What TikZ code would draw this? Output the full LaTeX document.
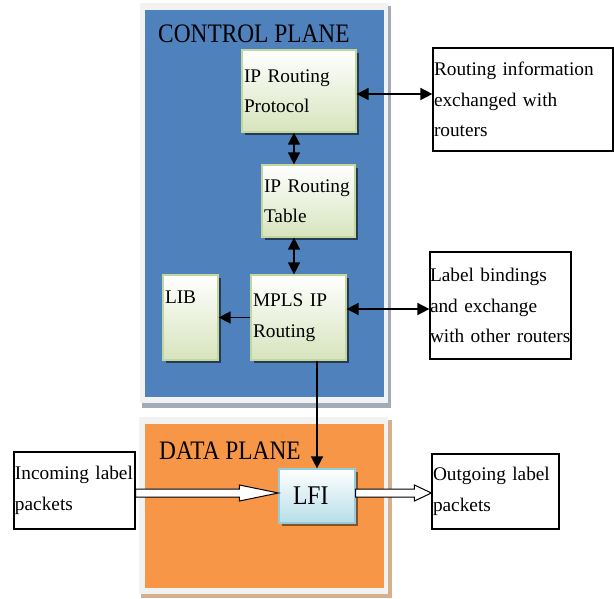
\documentclass[tikz,border=0pt]{standalone}
\usepackage{fontspec}
\setmainfont{Liberation Serif}
\newfontfamily\planofont[FakeStretch=0.875]{Liberation Serif}
\usetikzlibrary{arrows.meta,shadows,calc}

\definecolor{azulplano}{HTML}{4F81BD}
\definecolor{laranjaplano}{HTML}{F79646}
\definecolor{moldura}{HTML}{F2F2F2}
\definecolor{sombraazul}{HTML}{A3AAB8}
\definecolor{sombralaranja}{HTML}{D6B08E}
\definecolor{verdecaixa}{HTML}{D7E4BD}
\definecolor{bordaverde}{HTML}{C3D69B}
\definecolor{azulcaixa}{HTML}{B7DEE8}
\definecolor{bordaazul}{HTML}{93CDDD}

\tikzset{
  caixa/.style={draw=bordaverde, line width=1.2pt, top color=white, bottom color=verdecaixa,
    general shadow={fill=black!55!azulplano, shadow xshift=3pt, shadow yshift=-3pt},
    align=left, inner xsep=2pt, font=\fontsize{19.3}{30.5}\selectfont},
  caixalfi/.style={draw=bordaazul, line width=1.2pt, top color=white, bottom color=azulcaixa,
    general shadow={fill=black!45!laranjaplano, shadow xshift=3pt, shadow yshift=-3pt},
    font=\planofont\fontsize{27}{30}\selectfont},
  nota/.style={draw=black, line width=1.2pt, fill=white, align=left, inner xsep=1pt,
    font=\fontsize{19.3}{30.5}\selectfont},
  titulo/.style={inner sep=0pt, anchor=base west, font=\planofont\fontsize{26.7}{30}\selectfont},
  seta/.style={line width=1.5pt, -{Triangle[length=12pt,width=12pt]}},
  setadupla/.style={line width=1.5pt, {Triangle[length=12pt,width=12pt]}-{Triangle[length=12pt,width=12pt]}}
}

%seta larga vazada: #1 origem, #2 destino, #3 comprimento da ponta
\newcommand{\setavazada}[3]{%
  \draw[line width=1pt, fill=white] ($(#1)+(0,-4)$) -- ($(#2)+(-#3,-4)$) -- ($(#2)+(-#3,-8)$) -- (#2)
    -- ($(#2)+(-#3,8)$) -- ($(#2)+(-#3,4)$) -- ($(#1)+(0,4)$) -- cycle;}

\begin{document}
\begin{tikzpicture}[x=1pt,y=-1pt] %coordenadas em pixels da figura, y para baixo

\useasboundingbox (0,0) rectangle (614,599);

%----------------------------------------------------
%Planos de controle e de dados (fundos)
%----------------------------------------------------
\fill[sombraazul] (142,6) rectangle (391,408);
\fill[moldura] (140,3) rectangle (388,403);
\fill[azulplano] (145,10) rectangle (384,397);

\fill[sombralaranja] (141,420) rectangle (392,598);
\fill[moldura] (139,417) rectangle (388,594);
\fill[laranjaplano] (145,424) rectangle (384,588);

\node[titulo] (ctrltit) at (158,43) {CONTROL PLANE};
\node[titulo] (datatit) at (159,459) {DATA PLANE};

%----------------------------------------------------
%Caixas do plano de controle
%----------------------------------------------------
\node[caixa, minimum width=114, minimum height=82, text width=110] (proto) at (299,91) {IP Routing\\Protocol};
\node[caixa, minimum width=93, minimum height=72, text width=89] (tabela) at (308.5,201) {IP Routing\\Table};
\node[caixa, minimum width=55, minimum height=85, text width=51] (lib) at (190.5,317.5) {LIB\\\strut};
\node[caixa, minimum width=95, minimum height=85, text width=91] (mpls) at (298.5,317.5) {MPLS IP\\Routing};

%caixa do plano de dados
\node[caixalfi, minimum width=76, minimum height=54, text width=76, align=left, inner xsep=0pt] (lfi) at (317,496) {\hspace*{14pt}LFI};

%----------------------------------------------------
%Caixas externas
%----------------------------------------------------
\node[nota, minimum width=180, minimum height=103, text width=178] (info) at (523,99.5) {Routing information\\exchanged with\\routers};
\node[nota, minimum width=141, minimum height=107, text width=141, inner xsep=0pt] (bind) at (500.5,305.5) {Label bindings\\and exchange\\with other routers};
\node[nota, minimum width=121, minimum height=77, text width=119] (inc) at (74.5,490.5) {Incoming label\\packets};
\node[nota, minimum width=127, minimum height=75, text width=125] (outg) at (495.5,491.5) {Outgoing label\\packets};

%----------------------------------------------------
%Conexoes
%----------------------------------------------------
\coordinate (eixo) at (294,0);
\coordinate (r1) at (0,94);
\coordinate (r2) at (0,309);
\coordinate (fluxo) at (0,493);

\draw[setadupla] (proto.south -| eixo) -- (tabela.north -| eixo);
\draw[setadupla] (tabela.south -| eixo) -- (mpls.north -| eixo);
\draw[seta] (mpls.west) -- (lib.east);
\draw[setadupla] (proto.east |- r1) -- (info.west |- r1);
\draw[setadupla] (mpls.east |- r2) -- (bind.west |- r2);
\draw[seta] (mpls.south -| lfi.north) -- (lfi.north); %do MPLS para o LFI

%setas vazadas de entrada e saida dos pacotes
\coordinate (inA) at (inc.east |- fluxo);
\coordinate (inB) at (lfi.west |- fluxo);
\coordinate (outA) at (lfi.east |- fluxo);
\coordinate (outB) at (outg.west |- fluxo);
\setavazada{inA}{inB}{39}
\setavazada{outA}{outB}{17}

\end{tikzpicture}
\end{document}
